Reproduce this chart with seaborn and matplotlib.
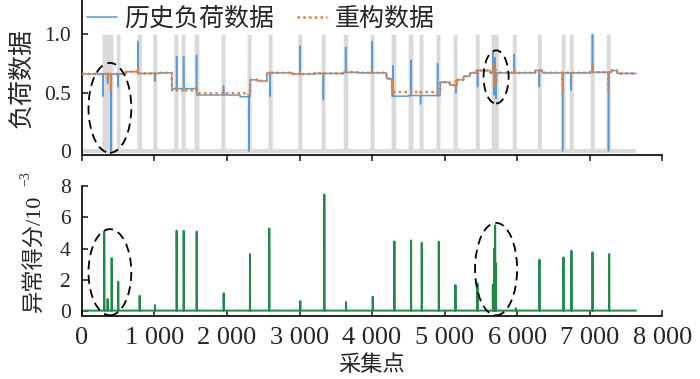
import matplotlib
matplotlib.use('Agg')

import numpy as np
import pandas as pd
import matplotlib.pyplot as plt
from matplotlib.patches import Ellipse
import seaborn as sns

sns.set_style("ticks")
plt.rcParams['font.family'] = ['Liberation Serif', 'Noto Sans CJK SC']
plt.rcParams['axes.unicode_minus'] = False

# ─────────────────────────────────────────
# data
# ─────────────────────────────────────────
N_POINTS = 7641

# step levels of the load curve: start of each step, history level, reconstructed level
STEP_START = [0, 610, 770, 1060, 1240, 1580, 2180, 2320, 2420, 2550, 2900, 3200, 3600, 3800,
              4200, 4275, 4500, 4940, 5070, 5170, 5260, 5350, 5440, 5630, 6250, 6350, 7000,
              7300, 7380]
STEP_HIST = [0.660, 0.680, 0.665, 0.670, 0.535, 0.480, 0.465, 0.610, 0.600, 0.670, 0.660,
             0.665, 0.675, 0.670, 0.620, 0.470, 0.475, 0.590, 0.565, 0.610, 0.640, 0.670,
             0.690, 0.670, 0.690, 0.670, 0.675, 0.690, 0.665]
STEP_RECON = [0.660, 0.680, 0.665, 0.670, 0.520, 0.495, 0.495, 0.610, 0.600, 0.670, 0.660,
              0.665, 0.675, 0.670, 0.620, 0.505, 0.505, 0.590, 0.565, 0.610, 0.640, 0.670,
              0.690, 0.670, 0.690, 0.670, 0.675, 0.690, 0.665]

# single-point spikes in the load curve
SPIKE_X = [292, 355, 400, 500, 775, 1005, 1306, 1402, 1580, 1952, 2300, 2593, 3007, 3329,
           3636, 4000, 4286, 4540, 4668, 4903, 5155, 5455, 5670, 5683, 5697, 5710, 5961,
           6306, 6627, 6741, 7039, 7260]
SPIKE_HIST = [0.47, 0.58, 0.00, 0.55, 0.94, 0.60, 0.81, 0.81, 0.82, 0.56, 0.00, 0.47, 0.90,
              0.44, 0.89, 0.94, 0.73, 0.78, 0.40, 0.75, 0.50, 0.55, 0.85, 0.48, 0.80, 0.45,
              0.83, 0.55, 0.00, 0.52, 1.00, 0.00]
SPIKE_RECON = [0.66, 0.62, 0.52, 0.66, 0.70, 0.66, 0.55, 0.53, 0.55, 0.49, 0.48, 0.65, 0.67,
               0.66, 0.68, 0.68, 0.60, 0.51, 0.50, 0.51, 0.60, 0.68, 0.74, 0.55, 0.72, 0.58,
               0.69, 0.67, 0.52, 0.67, 0.74, 0.52]

# anomaly label bands (grey): centre, width
BAND_X = [352, 500, 790, 1005, 1295, 1395, 1580, 1945, 2305, 2595, 3005, 3325, 3635, 4000,
          4295, 4530, 4675, 4910, 5145, 5450, 5690, 5960, 6305, 6635, 6745, 7035, 7255]
BAND_W = [150, 50, 60, 55, 55, 55, 65, 55, 55, 55, 55, 55, 65, 55,
          65, 65, 55, 55, 55, 55, 100, 55, 55, 55, 55, 55, 55]

# anomaly score (x10^-3)
SCORE_BASE = 0.05
SCORE_X = [308, 354, 410, 501, 796, 1007, 1306, 1403, 1582, 1954, 2317, 2583, 3011, 3342,
           3641, 4009, 4308, 4538, 4685, 4920, 5150, 5453, 5665, 5683, 5697, 5710, 5982,
           6308, 6639, 6749, 7039, 7269]
SCORE_Y = [5.1, 0.8, 3.4, 1.9, 1.0, 0.4, 5.15, 5.15, 5.1, 1.15, 3.66, 5.3, 0.66, 7.47,
           0.6, 0.94, 4.47, 4.53, 4.38, 4.45, 1.68, 1.79, 1.7, 4.0, 5.5, 3.06, 0.2,
           3.3, 3.45, 3.87, 3.77, 3.66]

# circled regions: centre x, centre y, width, height
TOP_ELL = [(386, 0.37, 590, 0.77), (5710, 0.635, 345, 0.455)]
BOT_ELL = [(386, 2.5, 590, 5.5), (5710, 2.7, 580, 5.9)]

X_TICKS = [0, 1000, 2000, 3000, 4000, 5000, 6000, 7000, 8000]

# ─────────────────────────────────────────
# build series
# ─────────────────────────────────────────
x = np.arange(N_POINTS)
idx = np.searchsorted(STEP_START, x, side='right') - 1
hist = np.array(STEP_HIST)[idx]
recon = np.array(STEP_RECON)[idx]
hist[SPIKE_X] = SPIKE_HIST
recon[SPIKE_X] = SPIKE_RECON

label = np.zeros(N_POINTS)
for c, w in zip(BAND_X, BAND_W):
    label[(x >= c - w / 2) & (x <= c + w / 2)] = 1.0

score = np.full(N_POINTS, SCORE_BASE)
score[SCORE_X] = SCORE_Y

df = pd.DataFrame({"x": x, "hist": hist, "recon": recon, "label": label, "score": score})

C_BLUE = "#5b9bd5"
C_ORANGE = "#ed7d31"
C_GREEN = "#1f8a48"
C_GREY = "#dadada"

fig = plt.figure(figsize=(7, 3.79), dpi=100)
ax1 = fig.add_axes([0.117, 0.591, 0.829, 0.409])
ax2 = fig.add_axes([0.117, 0.166, 0.829, 0.343])

# top: load data
ax1.fill_between(df["x"], 0, df["label"], color=C_GREY, lw=0, zorder=1)
ax1.hlines(0, df["x"].iloc[0], df["x"].iloc[-1], color=C_GREY, lw=3, zorder=1)
sns.lineplot(data=df, x="x", y="hist", ax=ax1, color=C_BLUE, lw=1.1, zorder=2,
             label="历史负荷数据")
sns.lineplot(data=df, x="x", y="recon", ax=ax1, color=C_ORANGE, lw=1.8, ls=(0, (1, 1.3)),
             zorder=3, label="重构数据")
for cx, cy, w, h in TOP_ELL:
    ax1.add_patch(Ellipse((cx, cy), w, h, fill=False, ls=(0, (5, 3)), lw=1.3,
                          ec="black", zorder=4))

ax1.set_xlim(0, 8000)
ax1.set_ylim(-0.034, 1.294)
ax1.set_xticks(X_TICKS)
ax1.set_xticklabels([])
ax1.set_yticks([0, 0.5, 1.0])
ax1.set_yticklabels(["0", "0.5", "1.0"])
ax1.tick_params(axis='x', direction='out', length=4, width=1.2)
ax1.tick_params(axis='y', direction='in', length=4, width=1.2, labelsize=15.5, pad=8)
ax1.set_xlabel("")
ax1.set_ylabel("负荷数据", fontsize=18)
ax1.yaxis.set_label_coords(-0.084, 0.5)
ax1.legend(loc='upper left', bbox_to_anchor=(-0.03, 1.1), ncol=2, frameon=False,
           fontsize=18, handlelength=1.2, handletextpad=0.3, columnspacing=0.9)

# bottom: anomaly score
sns.lineplot(data=df, x="x", y="score", ax=ax2, color=C_GREEN, lw=1.4)
for cx, cy, w, h in BOT_ELL:
    ax2.add_patch(Ellipse((cx, cy), w, h, fill=False, ls=(0, (5, 3)), lw=1.3,
                          ec="black", zorder=4))

ax2.set_xlim(0, 8000)
ax2.set_ylim(-0.3, 8.0)
ax2.set_xticks(X_TICKS)
ax2.set_xticklabels([f"{v:,}".replace(",", " ") for v in X_TICKS])
ax2.set_yticks([0, 2, 4, 6, 8])
ax2.tick_params(axis='x', direction='in', length=4, width=1.2, labelsize=19, pad=8)
ax2.tick_params(axis='y', direction='in', length=4, width=1.2, labelsize=15.5, pad=8)
ax2.set_xlabel("采集点", fontsize=16, labelpad=4)
ax2.set_ylabel("异常得分/10", fontsize=16)
ax2.yaxis.set_label_coords(-0.064, 0.485)
ax2.text(-0.097, 1.06, "\u22123", transform=ax2.transAxes, rotation=90, fontsize=10,
         ha='center', va='center')

for ax in (ax1, ax2):
    sns.despine(ax=ax)
    for sp in ("left", "bottom"):
        ax.spines[sp].set_linewidth(1.2)
        ax.spines[sp].set_color("black")

plt.savefig("out.png", dpi=100)
plt.close()
